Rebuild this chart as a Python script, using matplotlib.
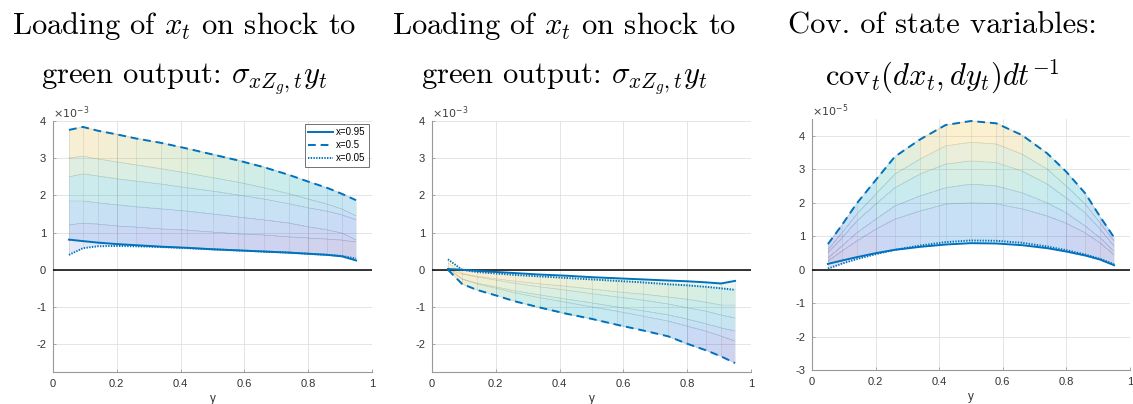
import numpy as np
import matplotlib
matplotlib.use("Agg")
import matplotlib.pyplot as plt
from matplotlib.colors import LinearSegmentedColormap

plt.rcParams['mathtext.fontset'] = 'cm'
plt.rcParams['font.family'] = ['Liberation Sans', 'DejaVu Sans']

y_nodes = [0.05, 0.094, 0.14, 0.20, 0.26, 0.34, 0.42, 0.50, 0.58, 0.66, 0.74, 0.80, 0.86, 0.906, 0.95]

# Panel 1: loading on shock to green output (units of 1e-3)
p1_x05 = [0.40, 0.58, 0.63, 0.64, 0.63, 0.61, 0.58, 0.55, 0.52, 0.49, 0.46, 0.43, 0.40, 0.37, 0.30]
p1_a1 = [1.20, 1.25, 1.22, 1.18, 1.14, 1.10, 1.06, 1.01, 0.97, 0.93, 0.89, 0.85, 0.82, 0.79, 0.75]
p1_a2 = [2.50, 2.58, 2.52, 2.45, 2.38, 2.30, 2.21, 2.11, 2.01, 1.90, 1.78, 1.67, 1.57, 1.48, 1.35]
p1_x50 = [3.76, 3.84, 3.74, 3.64, 3.53, 3.41, 3.26, 3.10, 2.94, 2.76, 2.55, 2.37, 2.20, 2.04, 1.87]
p1_b1 = [3.00, 3.05, 2.98, 2.90, 2.82, 2.72, 2.60, 2.48, 2.35, 2.21, 2.05, 1.90, 1.76, 1.63, 1.45]
p1_b2 = [1.85, 1.85, 1.80, 1.75, 1.70, 1.64, 1.57, 1.50, 1.42, 1.34, 1.25, 1.16, 1.08, 0.98, 0.80]
p1_x95 = [0.81, 0.77, 0.73, 0.69, 0.66, 0.62, 0.59, 0.55, 0.52, 0.49, 0.46, 0.43, 0.40, 0.36, 0.25]

# Panel 2: second loading panel (units of 1e-3)
p2_x05 = [0.28, 0.00, -0.06, -0.10, -0.14, -0.18, -0.22, -0.26, -0.30, -0.34, -0.39, -0.42, -0.46, -0.50, -0.54]
p2_a1 = [0.18, -0.10, -0.20, -0.28, -0.37, -0.46, -0.55, -0.64, -0.73, -0.82, -0.92, -1.02, -1.12, -1.22, -1.30]
p2_a2 = [0.08, -0.25, -0.38, -0.50, -0.62, -0.75, -0.88, -1.00, -1.12, -1.25, -1.38, -1.52, -1.66, -1.79, -1.92]
p2_x50 = [0.00, -0.38, -0.54, -0.69, -0.85, -1.02, -1.18, -1.32, -1.48, -1.63, -1.79, -1.99, -2.17, -2.33, -2.51]
p2_b1 = [0.01, -0.25, -0.36, -0.46, -0.57, -0.68, -0.79, -0.89, -1.00, -1.10, -1.21, -1.33, -1.45, -1.56, -1.65]
p2_b2 = [0.02, -0.12, -0.18, -0.24, -0.31, -0.38, -0.45, -0.52, -0.59, -0.66, -0.73, -0.80, -0.88, -0.95, -0.95]
p2_x95 = [0.02, 0.00, -0.03, -0.06, -0.09, -0.13, -0.16, -0.20, -0.23, -0.26, -0.29, -0.31, -0.34, -0.37, -0.30]

# Panel 3: covariance of state variables (units of 1e-5)
p3_x05 = [0.03, 0.18, 0.31, 0.46, 0.59, 0.72, 0.82, 0.87, 0.86, 0.80, 0.69, 0.58, 0.45, 0.32, 0.16]
p3_a1 = [0.25, 0.55, 0.85, 1.20, 1.50, 1.75, 1.95, 2.00, 1.97, 1.82, 1.60, 1.38, 1.10, 0.80, 0.45]
p3_a2 = [0.50, 0.95, 1.45, 1.95, 2.45, 2.85, 3.15, 3.25, 3.20, 2.95, 2.55, 2.15, 1.70, 1.20, 0.70]
p3_x50 = [0.76, 1.33, 1.97, 2.67, 3.37, 3.89, 4.32, 4.44, 4.37, 4.02, 3.47, 2.92, 2.27, 1.58, 0.96]
p3_b1 = [0.60, 1.10, 1.65, 2.25, 2.85, 3.30, 3.70, 3.80, 3.75, 3.45, 3.00, 2.50, 1.95, 1.40, 0.85]
p3_b2 = [0.35, 0.70, 1.10, 1.50, 1.90, 2.20, 2.45, 2.55, 2.50, 2.30, 2.00, 1.70, 1.30, 0.95, 0.55]
p3_x95 = [0.17, 0.27, 0.37, 0.49, 0.59, 0.68, 0.75, 0.79, 0.78, 0.73, 0.64, 0.54, 0.42, 0.30, 0.13]

legend_labels = ['x=0.95', 'x=0.5', 'x=0.05']
x_ticks = [0, 0.2, 0.4, 0.6, 0.8, 1]

# approximate MATLAB parula
parula = LinearSegmentedColormap.from_list('parula', [
    (0.208, 0.166, 0.529), (0.21, 0.24, 0.72), (0.10, 0.36, 0.87), (0.077, 0.541, 0.823),
    (0.024, 0.651, 0.772), (0.220, 0.722, 0.600), (0.592, 0.749, 0.379),
    (0.966, 0.731, 0.234), (0.976, 0.984, 0.080)])
mblue = (0, 0.447, 0.741)


def draw_panel(ax, curves, ylim, yticks, expo, show_legend=False):
    Z = np.array(curves)
    Y = np.tile(np.array(y_nodes), (Z.shape[0], 1))
    # flat-shaded faces coloured by mean height, like surf
    C = (Z[:-1, :-1] + Z[1:, :-1] + Z[:-1, 1:] + Z[1:, 1:]) / 4
    ax.pcolormesh(Y, Z, C, shading='flat', cmap=parula, alpha=0.12,
                  vmin=Z.min(), vmax=Z.max(), antialiased=False, edgecolors='none', zorder=1)
    # mesh lines
    for row in curves[1:-1]:
        ax.plot(y_nodes, row, color='0.4', lw=0.5, alpha=0.18, zorder=2)
    ax.vlines(y_nodes, Z.min(axis=0), Z.max(axis=0), color='0.4', lw=0.5, alpha=0.18, zorder=2)
    ax.axhline(0, color='black', lw=1.1, zorder=3)
    l95, = ax.plot(y_nodes, curves[-1], color=mblue, lw=1.4, ls='-', zorder=4)
    l50, = ax.plot(y_nodes, curves[3], color=mblue, lw=1.4, ls=(0, (4, 2.5)), zorder=4)
    l05, = ax.plot(y_nodes, curves[0], color=mblue, lw=1.4, ls=(0, (0.7, 0.7)), zorder=4)

    ax.set_xlim(0, 1)
    ax.set_ylim(*ylim)
    ax.set_xticks(x_ticks)
    ax.set_xticklabels(['0', '0.2', '0.4', '0.6', '0.8', '1'])
    ax.set_yticks(yticks)
    ax.set_yticklabels([str(t) for t in yticks])
    ax.grid(True, color='0.88', lw=0.6)
    ax.set_axisbelow(True)
    for s in ['top', 'right']:
        ax.spines[s].set_visible(False)
    for s in ['left', 'bottom']:
        ax.spines[s].set_color('0.6')
        ax.spines[s].set_linewidth(0.8)
    ax.tick_params(direction='in', length=2.5, width=0.6, color='0.6',
                   labelsize=8, labelcolor='0.2', pad=5)
    ax.set_xlabel('y', fontsize=8.5, color='0.2', labelpad=3)
    ax.text(0.0, 1.0, r'$\times10^{' + str(expo) + '}$', transform=ax.transAxes,
            fontsize=8, color='0.25', ha='left', va='bottom', math_fontfamily='dejavusans')
    if show_legend:
        leg = ax.legend([l95, l50, l05], legend_labels, loc='upper right', fontsize=7,
                        frameon=True, fancybox=False, handlelength=2.6, borderpad=0.35,
                        labelspacing=0.3, handletextpad=0.3, borderaxespad=0.3)
        leg.get_frame().set_edgecolor('0.2')
        leg.get_frame().set_linewidth(0.6)


fig = plt.figure(figsize=(11.33, 4.04), dpi=100)
W, H = 1133, 404
ax1 = fig.add_axes([53 / W, 1 - 372 / H, 319 / W, 251 / H])
ax2 = fig.add_axes([432 / W, 1 - 372 / H, 319 / W, 251 / H])
ax3 = fig.add_axes([812 / W, 1 - 370 / H, 318 / W, 251 / H])

draw_panel(ax1, [p1_x05, p1_a1, p1_a2, p1_x50, p1_b1, p1_b2, p1_x95],
           (-2.75, 4), [-2, -1, 0, 1, 2, 3, 4], -3, show_legend=True)
draw_panel(ax2, [p2_x05, p2_a1, p2_a2, p2_x50, p2_b1, p2_b2, p2_x95],
           (-2.75, 4), [-2, -1, 0, 1, 2, 3, 4], -3)
draw_panel(ax3, [p3_x05, p3_a1, p3_a2, p3_x50, p3_b1, p3_b2, p3_x95],
           (-3, 4.5), [-3, -2, -1, 0, 1, 2, 3, 4], -5)

tkw = dict(fontsize=22, fontfamily='cmr10', ha='center', va='baseline')
fig.text(184 / W, 1 - 34 / H, r'Loading of $x_t$ on shock to', **tkw)
fig.text(184 / W, 1 - 83 / H, r'green output: $\sigma_{xZ_g,t}y_t$', **tkw)
fig.text(564 / W, 1 - 34 / H, r'Loading of $x_t$ on shock to', **tkw)
fig.text(564 / W, 1 - 83 / H, r'green output: $\sigma_{xZ_g,t}y_t$', **tkw)
fig.text(942 / W, 1 - 34 / H, r'Cov. of state variables:', **tkw)
fig.text(942 / W, 1 - 85 / H, r'$\mathrm{cov}_t(dx_t,dy_t)dt^{-1}$', **tkw)

fig.savefig('out.png', dpi=100)
